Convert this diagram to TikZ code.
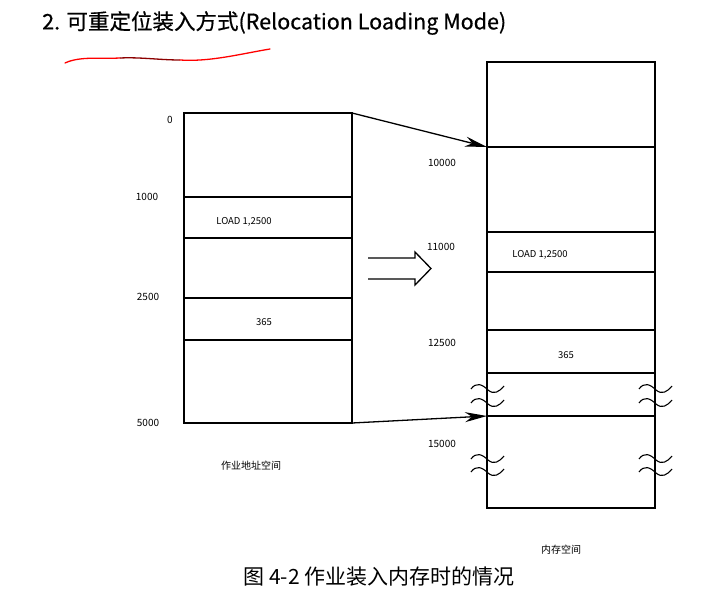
\documentclass[tikz,border=0pt]{standalone}
\usepackage{fontspec}
\setmainfont{Noto Sans CJK SC}
\newfontfamily\titlefont[FakeBold=0.6]{Noto Sans CJK SC}
\usetikzlibrary{arrows.meta}

\begin{document}
\begin{tikzpicture}[
    x=1pt, y=-1pt,
    membox/.style={
        draw,
        line width=1.3pt
    },
    rowline/.style={
        line width=1.3pt
    },
    addrlabel/.style={
        font=\fontsize{10}{12}\selectfont,
        inner sep=0pt
    },
    celltext/.style={
        font=\fontsize{9.5}{11}\selectfont,
        inner sep=0pt
    },
    loadarrow/.style={
        -{Stealth[length=22pt,width=10pt,inset=7pt]},
        line width=1.3pt
    },
    breakmark/.pic={
        \draw[line width=1.1pt] (-16,2) .. controls (-11,-5) and (-5,-3) .. (1,3)
            .. controls (7,8) and (12,5) .. (17,-1);
    }
]
\useasboundingbox (0,0) rectangle (709,589);

% Title
\node[anchor=west, inner sep=0pt, font=\titlefont\fontsize{21.5}{25}\selectfont] (title) at (42,23)
    {2. 可重定位装入方式(Relocation Loading Mode)};
\draw[red, line width=1.3pt, line cap=round] (65,63) .. controls (80,56) and (100,59) .. (120,58);
\draw[red!55!black, line width=1.3pt] (120,58) .. controls (140,57) and (160,60) .. (180,60);
\draw[red, line width=1.3pt, line cap=round] (180,60) .. controls (210,62) and (240,54) .. (270,49);

% ============ JOB ADDRESS SPACE ============
\def\jobL{184}
\def\jobR{352}
\draw[membox] (\jobL,113) rectangle (\jobR,423);
\foreach \y in {197, 238, 298, 340} {
    \draw[rowline] (\jobL,\y) -- (\jobR,\y);
}
\coordinate (jobtop) at (\jobR,113);
\coordinate (jobbot) at (\jobR,423);

\node[addrlabel] (a0) at (170,120) {0};
\node[addrlabel] (a1000) at (147,197) {1000};
\node[addrlabel] (a2500) at (148,297) {2500};
\node[addrlabel] (a5000) at (148,423) {5000};

\node[celltext] (jobload) at (244,222) {LOAD 1,2500};
\node[celltext] (job365) at (264,322) {365};
\node[addrlabel] (jobname) at (251,466) {作业地址空间};

% ============ MEMORY SPACE ============
\def\memL{487}
\def\memR{655}
\draw[membox] (\memL,62) rectangle (\memR,508);
\foreach \y in {147, 232, 272, 330, 373, 416} {
    \draw[rowline] (\memL,\y) -- (\memR,\y);
}
\coordinate (memstart) at (\memL,147);
\coordinate (memend) at (\memL,416);

\node[addrlabel] (m10000) at (442,163) {10000};
\node[addrlabel] (m11000) at (441,247) {11000};
\node[addrlabel] (m12500) at (442,343) {12500};
\node[addrlabel] (m15000) at (442,444) {15000};

\node[celltext] (memload) at (540,255) {LOAD 1,2500};
\node[celltext] (mem365) at (566,355) {365};
\node[addrlabel] (memname) at (561,550) {内存空间};

% break marks on both edges
\foreach \x in {\memL, \memR} {
    \foreach \y in {387, 401, 457, 470} {
        \pic at (\x,\y) {breakmark};
    }
}

% ============ LOADING ARROWS ============
\draw[loadarrow] (jobtop) -- (memstart);
\draw[loadarrow] (jobbot) -- (memend);

% hollow double arrow
\draw[line width=1.3pt, line join=miter] (368,258) -- (415,258) -- (415,252) -- (431,268.5)
    -- (415,285) -- (415,279) -- (368,279);

% Caption
\node[font=\fontsize{21}{25}\selectfont, inner sep=0pt] (caption) at (379,577)
    {图 4-2 作业装入内存时的情况};

\end{tikzpicture}
\end{document}
